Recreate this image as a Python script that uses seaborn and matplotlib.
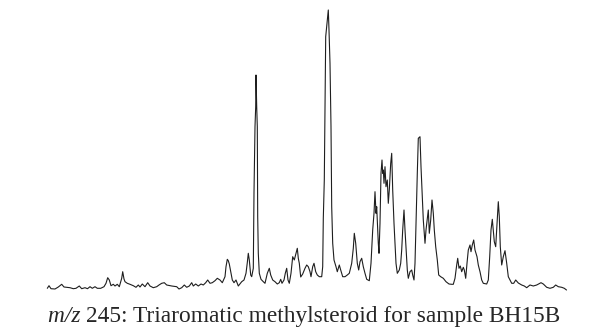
import matplotlib
matplotlib.use("Agg")
import matplotlib.pyplot as plt
import seaborn as sns
import pandas as pd

# Retention position (scan) and detector response
scan = [47.3, 49, 51, 55, 58.3, 61.7, 64, 70, 73.3, 76, 79.3, 81.7, 85, 87.5, 90, 92.3, 95, 97.3,
        100.7, 104, 106, 107.7, 109.3, 111, 113.3, 115, 117.3, 119.3, 121.7, 122.7, 124, 125,
        127.3, 130, 133.3, 136, 138.3, 140, 142.3, 145, 147.7, 150, 153.3, 156.7, 159, 161.7,
        164.3, 166.7, 171.7, 176.7, 179, 181.7, 184.3, 186.7, 189.3, 191.7, 193.3, 195.7, 198.3,
        201, 203.3, 205.7, 207.7, 210, 212.3, 215, 217.3, 220, 222.3, 225, 226, 227.3, 228.3,
        229.3, 230.7, 232.3, 234, 236, 238.3, 241.7, 244, 246, 247.3, 248.3, 249.3, 250.7, 251.7,
        253.3, 254, 255, 255.7, 256, 256.7, 257.3, 257.7, 258.3, 259.3, 261, 263.3, 265, 267.3,
        269.3, 270.7, 272.7, 275, 277.3, 279.3, 280.7, 282, 284, 285.3, 286.7, 288, 289.3, 291,
        292.7, 294.3, 296, 297.3, 298.3, 299.3, 300.7, 302.7, 305, 306.7, 308.3, 310, 311, 312.7,
        314, 315.7, 317.3, 319.3, 321.7, 322.7, 323.3, 324.3, 325, 325.7, 326.7, 327.7, 328.3,
        329, 330, 331, 331.7, 332.7, 334, 336, 337.3, 339.3, 340.7, 342.7, 345, 347.3, 349.3,
        351.7, 353.3, 354.3, 355.7, 357.3, 358.7, 360, 361.7, 363.3, 365, 366.7, 369.3, 371,
        372.7, 374, 375, 376, 376.7, 378.3, 379, 380, 381, 382, 382.7, 383.3, 384, 385, 386,
        387.3, 388.3, 389.3, 390.7, 391.7, 392.7, 394, 395, 396, 397.3, 399.3, 400.7, 401.7,
        402.7, 404, 405, 406, 407.3, 408.3, 410, 411.7, 412.7, 414, 415, 416, 417.3, 418.3, 420,
        421, 422, 423.3, 425, 426, 427.3, 428.3, 429.3, 430.7, 432, 433.3, 434.3, 435.7, 437.3,
        438.7, 440.7, 443.3, 446, 449, 451.7, 453.3, 455, 456.7, 457.7, 459, 460.3, 461.7, 463.3,
        464.3, 465.7, 467, 468.3, 470, 471, 472.3, 473.7, 475, 477, 478.3, 480, 481.7, 483.3,
        486.7, 488.3, 489.7, 491, 492.3, 493.3, 494.3, 495.7, 496.7, 497.7, 498.3, 499.3, 500.3,
        501.7, 503.3, 505, 506.7, 508.3, 510, 511.7, 513.7, 515.7, 518.3, 521.7, 524.3, 526.7,
        530, 533.3, 536.7, 541, 543.3, 546.7, 550, 553.3, 555.7, 558.3, 561.7, 564.3, 566.5]

response = [1.7, 4.3, 1.3, 1, 3, 5.7, 3, 2.3, 1.3, 1.7, 4, 1.3, 2.3, 1.3, 3.3, 1.7, 3.3, 1.7,
            1.7, 3.3, 6.7, 12.3, 10, 4.3, 5.7, 4, 5.7, 3.3, 11.7, 18.3, 11, 8.3,
            6.7, 5.7, 4.3, 2.7, 5, 3, 6, 3.3, 7.3, 4, 2.3, 3.3, 5, 6.7,
            7.3, 5, 4, 3.3, 1, 2.3, 5, 2.7, 4, 7.3, 4, 6, 4,
            6, 5, 7.3, 10, 6.7, 7.3, 9.3, 11.7, 10, 7.3, 13.3, 23.3, 30.7, 29.3,
            26, 18.3, 10, 7.3, 10, 4, 8.3, 10, 16.7, 27.3, 36.7, 30, 15, 13.3,
            21.7, 97.3, 163.3, 183.3, 215, 183.3, 163.3, 73.3, 36.7, 16.7, 10.7, 8.3, 6.7, 16.7,
            21.7, 15, 10, 8.3, 6, 7.3, 10.7, 6.7, 10, 16.7, 21.7, 10, 6.7, 16.7,
            33.3, 30, 36.7, 41.7, 31.7, 26.7, 13, 16, 21.7, 25, 23.3, 18.3, 13.3, 23.3,
            26.7, 18.3, 15, 13.3, 13.3, 23.3, 71.7, 110, 176.7, 253.3, 263.3, 273.3, 280,
            260, 226.7, 163.3, 83.3, 46.7, 30, 23.3, 18.3, 25, 20, 13.3, 13.3, 15, 16.7,
            26.7, 41.7, 56.7, 46.7, 26.7, 20, 28.3, 31.7, 23.3, 16.7, 10.7, 9.3, 26.7,
            60, 76.7, 98.3, 76.7, 83.3, 46.7, 36.7, 66.7, 116.7, 130, 116.7, 120, 106.7, 123.3, 103.3,
            110, 86.7, 100, 126.7, 136.7, 100, 66.7, 46.7, 26.7, 16.7, 20, 26.7, 40,
            60, 80, 60, 43.3, 20, 11.7, 18.3, 20, 15, 10, 26.7, 66.7, 116.7, 151.7, 153.3,
            123.3, 100, 70, 46.7, 60, 71.7, 80, 56.7, 70, 90, 76.7, 60, 43.3, 30,
            15, 13.3, 11.7, 8.3, 6, 5.7, 5.7, 11.7, 25, 31.7, 21.7, 24, 18.3, 22.7,
            20, 11.7, 26.7, 40, 45, 38.3, 45, 50, 40, 33.3, 25, 18.3, 10, 6.7,
            6, 10, 33.3, 60, 70.7, 60, 48.3, 43.3, 60, 78.3, 88.3, 73.3, 43.3,
            25, 33.3, 39.3, 26.7, 13.3, 10, 6.7, 6.7, 10, 7, 5, 4, 2.3,
            5, 4, 5, 7.3, 6, 2.7, 1.7, 2.7, 5, 3.3, 2.7, 1.7, 0]

caption = "245: Triaromatic methylsteroid for sample BH15B"
ion_label = "m/z"

df = pd.DataFrame({"scan": scan, "response": response})

sns.set_theme(style="white")
fig = plt.figure(figsize=(6.08, 3.30), dpi=100)
ax = fig.add_axes([0, 0, 1, 1])
sns.lineplot(data=df, x="scan", y="response", ax=ax, color="#1e1e1e",
             linewidth=0.8, sort=False, estimator=None)
ax.set_xlim(0, 608)
ax.set_ylim(-40, 290)
ax.axis("off")

t1 = fig.text(0.0, 0.0, ion_label + " ", fontfamily="Liberation Serif",
              fontstyle="italic", fontsize=16.8)
t2 = fig.text(0.0, 0.0, caption, fontfamily="Liberation Serif", fontsize=16.8)
fig.canvas.draw()
r = fig.canvas.get_renderer()
w1 = t1.get_window_extent(r).width
w2 = t2.get_window_extent(r).width
W = fig.bbox.width
x0 = (W - (w1 + w2)) / 2.0
base_y = 1 - 322 / 330
t1.set_position((x0 / W, base_y))
t2.set_position(((x0 + w1) / W, base_y))
t1.set_va("baseline")
t2.set_va("baseline")

fig.savefig("out.png", dpi=100)
